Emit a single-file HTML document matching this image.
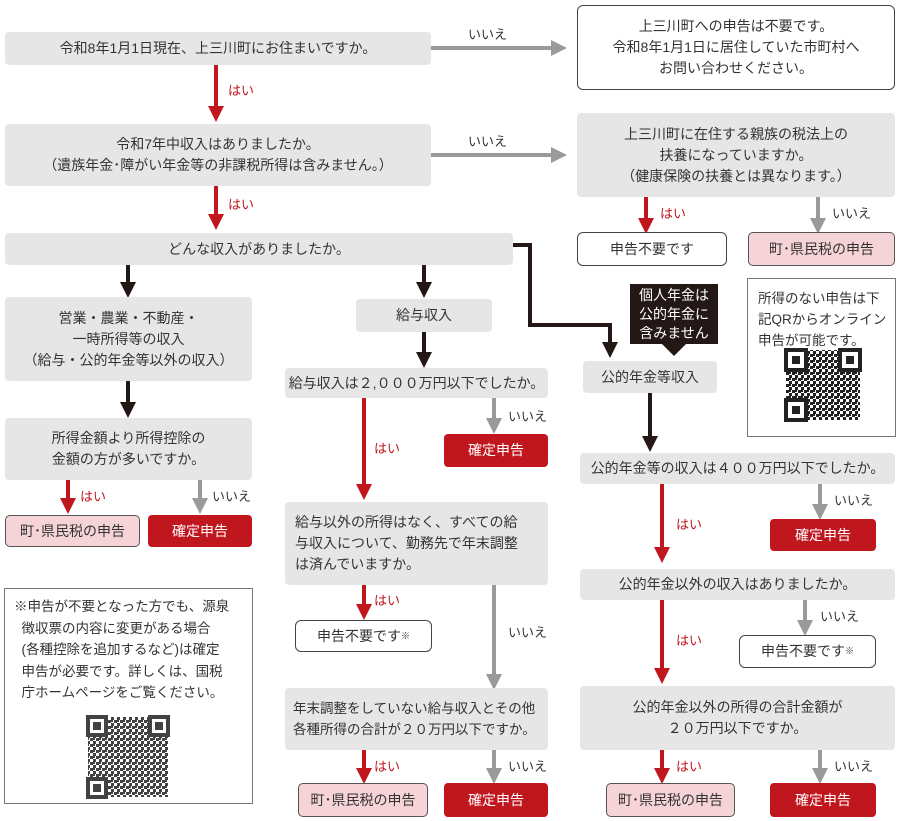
<!DOCTYPE html>
<html><head><meta charset="utf-8">
<style>
body{margin:0;width:900px;height:821px;background:#fff;position:relative;overflow:hidden;font-family:"Liberation Sans","Noto Sans CJK JP",sans-serif;color:#333;font-size:14px}
.b{position:absolute;box-sizing:border-box;display:flex;align-items:center;justify-content:center;text-align:center;line-height:21px;border-radius:4px;white-space:nowrap}
.g{background:#e6e6e6}
.w{background:#fff;border:1px solid #444;border-radius:6px}
.p{background:#f5d3d7;border:1px solid #555;border-radius:5px}
.r{background:#c0171f;color:#fff;border-radius:4px}
.l{position:absolute;font-size:13px;white-space:nowrap}
.hr{color:#c0171f}
svg{position:absolute;left:0;top:0}
.lt{justify-content:flex-start;text-align:left;padding-left:8px}
</style></head><body>
<svg width="900" height="821">
<defs>
<marker id="ar" markerWidth="4" markerHeight="4" refX="2" refY="2" orient="auto" markerUnits="strokeWidth"><path d="M0,0L4,2L0,4z" fill="#c0171f"/></marker>
<marker id="ag" markerWidth="4" markerHeight="4" refX="2" refY="2" orient="auto" markerUnits="strokeWidth"><path d="M0,0L4,2L0,4z" fill="#9a9a9a"/></marker>
<marker id="ak" markerWidth="4" markerHeight="4" refX="2" refY="2" orient="auto" markerUnits="strokeWidth"><path d="M0,0L4,2L0,4z" fill="#231815"/></marker>
<pattern id="qr" width="6" height="6" patternUnits="userSpaceOnUse"><rect width="3" height="3" fill="#222"/><rect x="3" y="3" width="3" height="3" fill="#222"/><rect x="3" width="2" height="2" fill="#222"/></pattern>
</defs>
<g stroke-width="4" fill="none">
<g stroke="#c0171f" marker-end="url(#ar)">
<path d="M216 64V114"/><path d="M216 186V222"/>
<path d="M646 197V226"/>
<path d="M68 480V506"/><path d="M364 398V492"/><path d="M364 585V612"/><path d="M364 750V776"/>
<path d="M662 484V555"/><path d="M662 600V676"/><path d="M662 750V776"/>
</g>
<g stroke="#9a9a9a" marker-end="url(#ag)">
<path d="M431 48H559"/><path d="M431 155H559"/><path d="M818 197V226"/>
<path d="M200 480V506"/><path d="M494 398V426"/><path d="M494 585V682"/><path d="M494 750V776"/>
<path d="M820 484V512"/><path d="M805 600V628"/><path d="M820 750V776"/>
</g>
<g stroke="#231815" marker-end="url(#ak)">
<path d="M128 265V290"/><path d="M424 265V290"/><path d="M513 245H530V325H610V350"/>
<path d="M128 381V410"/><path d="M424 332V360"/><path d="M650 393V444"/>
</g>
</g>
<rect x="630" y="284" width="88" height="60" fill="#231815"/><path d="M662 344L674 356L686 344z" fill="#231815"/>
<rect x="747.5" y="278.5" width="148" height="158" fill="none" stroke="#777"/>
<rect x="4.5" y="588.5" width="248" height="215" fill="none" stroke="#777"/>
<g>
<rect x="786" y="350" width="74" height="70" fill="url(#qr)"/>
<rect x="786" y="350" width="20" height="20" fill="#fff" stroke="#222" stroke-width="4"/><rect x="792" y="356" width="8" height="8" fill="#222"/>
<rect x="840" y="350" width="20" height="20" fill="#fff" stroke="#222" stroke-width="4"/><rect x="846" y="356" width="8" height="8" fill="#222"/>
<rect x="786" y="400" width="20" height="20" fill="#fff" stroke="#222" stroke-width="4"/><rect x="792" y="406" width="8" height="8" fill="#222"/>
</g>
<g opacity="0.85">
<rect x="88" y="717" width="80" height="80" fill="url(#qr)"/>
<rect x="88" y="717" width="18" height="18" fill="#fff" stroke="#222" stroke-width="4"/><rect x="93" y="722" width="8" height="8" fill="#222"/>
<rect x="150" y="717" width="18" height="18" fill="#fff" stroke="#222" stroke-width="4"/><rect x="155" y="722" width="8" height="8" fill="#222"/>
<rect x="88" y="779" width="18" height="18" fill="#fff" stroke="#222" stroke-width="4"/><rect x="93" y="784" width="8" height="8" fill="#222"/>
</g>
</svg>

<div class="b g" style="left:5px;top:32px;width:426px;height:33px">令和8年1月1日現在、上三川町にお住まいですか。</div>
<div class="l" style="left:468px;top:24px">いいえ</div>
<div class="b w" style="left:577px;top:5px;width:318px;height:85px">上三川町への申告は不要です。<br>令和8年1月1日に居住していた市町村へ<br>お問い合わせください。</div>
<div class="l hr" style="left:228px;top:80px">はい</div>
<div class="b g" style="left:5px;top:124px;width:426px;height:62px">令和7年中収入はありましたか。<br>（遺族年金･障がい年金等の非課税所得は含みません。）</div>
<div class="l" style="left:468px;top:131px">いいえ</div>
<div class="b g" style="left:577px;top:113px;width:318px;height:84px">上三川町に在住する親族の税法上の<br>扶養になっていますか。<br>（健康保険の扶養とは異なります。）</div>
<div class="l hr" style="left:660px;top:203px">はい</div>
<div class="l" style="left:832px;top:203px">いいえ</div>
<div class="b w" style="left:577px;top:232px;width:150px;height:34px">申告不要です</div>
<div class="b p" style="left:748px;top:232px;width:147px;height:34px">町･県民税の申告</div>
<div class="l hr" style="left:228px;top:194px">はい</div>
<div class="b g" style="left:5px;top:233px;width:508px;height:32px">どんな収入がありましたか。</div>
<div class="b g" style="left:5px;top:297px;width:247px;height:84px">営業・農業・不動産・<br>一時所得等の収入<br>（給与・公的年金等以外の収入）</div>
<div class="b g" style="left:356px;top:299px;width:136px;height:33px">給与収入</div>
<div class="b" style="left:630px;top:284px;width:88px;height:60px;color:#fff;line-height:19px">個人年金は<br>公的年金に<br>含みません</div>
<div class="b g" style="left:583px;top:361px;width:134px;height:32px">公的年金等収入</div>
<div class="l" style="left:758px;top:288px;line-height:21px;font-size:13.5px">所得のない申告は下<br>記QRからオンライン<br>申告が可能です。</div>
<div class="b g" style="left:5px;top:418px;width:247px;height:62px">所得金額より所得控除の<br>金額の方が多いですか。</div>
<div class="b g" style="left:285px;top:368px;width:263px;height:30px">給与収入は２,０００万円以下でしたか。</div>
<div class="b g" style="left:580px;top:453px;width:315px;height:31px">公的年金等の収入は４００万円以下でしたか。</div>
<div class="l hr" style="left:80px;top:486px">はい</div>
<div class="l" style="left:212px;top:486px">いいえ</div>
<div class="b p" style="left:5px;top:515px;width:135px;height:32px">町･県民税の申告</div>
<div class="b r" style="left:148px;top:515px;width:104px;height:32px">確定申告</div>
<div class="l hr" style="left:374px;top:438px">はい</div>
<div class="l" style="left:508px;top:406px">いいえ</div>
<div class="b r" style="left:444px;top:434px;width:104px;height:33px">確定申告</div>
<div class="b g lt" style="left:285px;top:502px;width:263px;height:83px;padding-left:10px">給与以外の所得はなく、すべての給<br>与収入について、勤務先で年末調整<br>は済んでいますか。</div>
<div class="l hr" style="left:374px;top:590px">はい</div>
<div class="b w" style="left:295px;top:620px;width:137px;height:32px">申告不要です<span style="font-size:9px;vertical-align:top">※</span></div>
<div class="l" style="left:508px;top:622px">いいえ</div>
<div class="b g lt" style="left:285px;top:688px;width:263px;height:62px;font-size:13.5px">年末調整をしていない給与収入とその他<br>各種所得の合計が２０万円以下ですか。</div>
<div class="l hr" style="left:374px;top:756px">はい</div>
<div class="l" style="left:508px;top:756px">いいえ</div>
<div class="b p" style="left:298px;top:783px;width:130px;height:34px">町･県民税の申告</div>
<div class="b r" style="left:444px;top:783px;width:104px;height:34px">確定申告</div>
<div class="l hr" style="left:676px;top:514px">はい</div>
<div class="l" style="left:834px;top:490px">いいえ</div>
<div class="b r" style="left:770px;top:519px;width:106px;height:32px">確定申告</div>
<div class="b g" style="left:580px;top:569px;width:315px;height:31px">公的年金以外の収入はありましたか。</div>
<div class="l hr" style="left:676px;top:630px">はい</div>
<div class="l" style="left:820px;top:606px">いいえ</div>
<div class="b w" style="left:739px;top:635px;width:137px;height:33px">申告不要です<span style="font-size:9px;vertical-align:top">※</span></div>
<div class="b g" style="left:580px;top:686px;width:315px;height:64px">公的年金以外の所得の合計金額が<br>２０万円以下ですか。</div>
<div class="l hr" style="left:676px;top:756px">はい</div>
<div class="l" style="left:834px;top:756px">いいえ</div>
<div class="b p" style="left:606px;top:783px;width:129px;height:34px">町･県民税の申告</div>
<div class="b r" style="left:770px;top:783px;width:106px;height:34px">確定申告</div>
<div class="l" style="left:14px;top:596px;line-height:21.5px;font-size:13.5px">※申告が不要となった方でも、源泉<br>&nbsp;&nbsp;徴収票の内容に変更がある場合<br>&nbsp;&nbsp;(各種控除を追加するなど)は確定<br>&nbsp;&nbsp;申告が必要です。詳しくは、国税<br>&nbsp;&nbsp;庁ホームページをご覧ください。</div>
</body></html>
